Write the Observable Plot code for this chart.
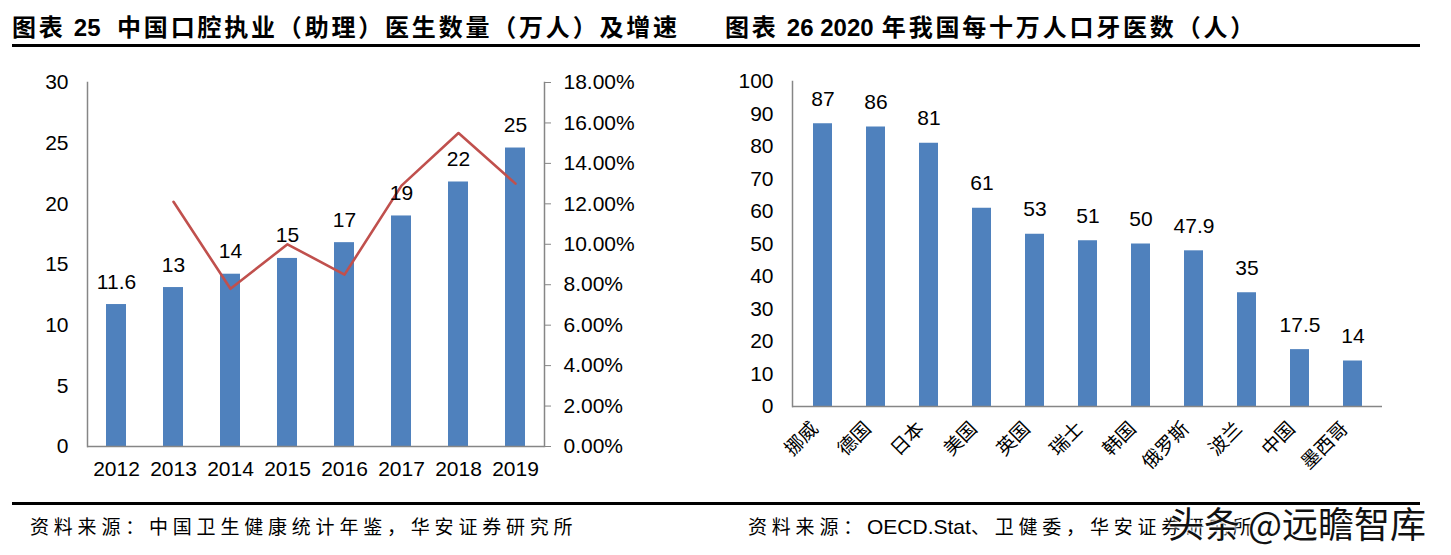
<!DOCTYPE html>
<html>
<head>
<meta charset="utf-8">
<script src="https://cdn.jsdelivr.net/npm/d3@7"></script>
<script src="https://cdn.jsdelivr.net/npm/@observablehq/plot@0.6"></script>
<style>
  body { margin: 0; background: #fff; }
  #page { position: relative; width: 1451px; height: 555px; overflow: hidden; background: #fff; }
  .title { position: absolute; top: 10px; font-family: "Noto Sans CJK SC", sans-serif; font-weight: bold; font-size: 24px; letter-spacing: 2.8px; color: #000; white-space: nowrap; line-height: 32px; }
  .title .num { font-family: "Liberation Sans", sans-serif; letter-spacing: 0; }
  .rule { position: absolute; left: 12px; width: 1408px; height: 3px; background: #000; }
  .source { position: absolute; top: 512px; font-family: "Noto Sans CJK SC", sans-serif; font-size: 19px; letter-spacing: 4.8px; color: #000; white-space: nowrap; line-height: 28px; }
  .source .latin { font-family: "Liberation Sans", sans-serif; font-size: 21px; letter-spacing: 0; }
  .chart { position: absolute; }
  #wm { position: absolute; left: 1168px; top: 500px; font-family: "Noto Sans CJK SC", sans-serif; font-size: 36px; color: #111; white-space: nowrap; text-shadow: 0 0 3px #fff, 0 0 3px #fff, 0 0 3px #fff; line-height: 44px; }
</style>
</head>
<body>
<div id="page">
  <div class="title" style="left:12px">图表 <span class="num">25</span>&nbsp; 中国口腔执业（助理）医生数量（万人）及增速</div>
  <div class="title" style="left:725px">图表 <span class="num">26 2020</span> 年我国每十万人口牙医数（人）</div>
  <div class="rule" style="top:44px"></div>
  <div id="left" class="chart" style="left:0px; top:60px"></div>
  <div id="right" class="chart" style="left:725px; top:60px"></div>
  <div class="rule" style="top:502px"></div>
  <div class="source" style="left:30px">资料来源：中国卫生健康统计年鉴，华安证券研究所</div>
  <div class="source" style="left:748px">资料来源：<span class="latin">OECD.Stat</span>、卫健委，华安证券研究所</div>
  <div id="wm">头条 @远瞻智库</div>
</div>
<script>
// ---- Data: chart 25 ----
const years = ["2012", "2013", "2014", "2015", "2016", "2017", "2018", "2019"];
const doctors = [11.7, 13.1, 14.2, 15.5, 16.8, 19.0, 21.8, 24.6];
const doctorLabels = ["11.6", "13", "14", "15", "17", "19", "22", "25"];
const growthPct = [null, 12.1, 7.8, 10.0, 8.5, 12.9, 15.5, 13.0];
const leftTicks = [0, 5, 10, 15, 20, 25, 30];
const pctTicks = [0, 2, 4, 6, 8, 10, 12, 14, 16, 18];

// ---- Data: chart 26 ----
const countries = ["挪威", "德国", "日本", "美国", "英国", "瑞士", "韩国", "俄罗斯", "波兰", "中国", "墨西哥"];
const dentists = [87, 86, 81, 61, 53, 51, 50, 47.9, 35, 17.5, 14];
const dentistLabels = ["87", "86", "81", "61", "53", "51", "50", "47.9", "35", "17.5", "14"];
const rightTicks = [0, 10, 20, 30, 40, 50, 60, 70, 80, 90, 100];

const BLUE = "#4F81BD";
const RED = "#C0504D";
const AXIS = "#868686";
const FS = 21;

const leftData = years.map((y, i) => ({year: y, value: doctors[i], label: doctorLabels[i], growth: growthPct[i]}));
const growthData = leftData.filter(d => d.growth != null);
const pctMax = 18, leftMax = 30;
const toLeft = p => p * leftMax / pctMax;

const left = Plot.plot({
  width: 660, height: 430,
  marginLeft: 87, marginRight: 116, marginTop: 22, marginBottom: 44,
  x: {domain: years, paddingInner: 0.65, paddingOuter: 0.325, label: null},
  y: {domain: [0, leftMax], label: null},
  style: {fontFamily: "'Liberation Sans', Arial, sans-serif", fontSize: FS + "px", color: "#000", background: "transparent", overflow: "visible"},
  marks: [
    Plot.barY(leftData, {x: "year", y: "value", fill: BLUE}),
    Plot.frame({anchor: "left", stroke: AXIS, strokeWidth: 1.5}),
    Plot.frame({anchor: "right", stroke: AXIS, strokeWidth: 1.5}),
    Plot.ruleY([0], {stroke: AXIS, strokeWidth: 1.5}),
    Plot.line(growthData, {x: "year", y: d => toLeft(d.growth), stroke: RED, strokeWidth: 2.6}),
    Plot.text(leftData, {x: "year", y: "value", text: "label", lineAnchor: "bottom", dy: -16, fill: "#000", fontSize: FS}),
    Plot.axisY(leftTicks, {anchor: "left", tickSize: 0, tickPadding: 19, label: null, fontSize: FS}),
    Plot.axisY(pctTicks.map(toLeft), {anchor: "right", tickSize: 6, tickPadding: 13, stroke: AXIS, fontSize: FS, tickFormat: d => (d * pctMax / leftMax).toFixed(2) + "%", label: null}),
    Plot.axisX({tickSize: 0, tickPadding: 15, label: null, fontSize: FS})
  ]
});
document.getElementById("left").append(left);

const rightData = countries.map((c, i) => ({country: c, value: dentists[i], label: dentistLabels[i]}));
const right = Plot.plot({
  width: 726, height: 440,
  marginLeft: 67, marginRight: 69, marginTop: 21, marginBottom: 94,
  x: {domain: countries, paddingInner: 0.645, paddingOuter: 0.3225, label: null},
  y: {domain: [0, 100], label: null},
  style: {fontFamily: "'Liberation Sans', Arial, sans-serif", fontSize: FS + "px", color: "#000", background: "transparent", overflow: "visible"},
  marks: [
    Plot.barY(rightData, {x: "country", y: "value", fill: BLUE}),
    Plot.frame({anchor: "left", stroke: AXIS, strokeWidth: 1.5}),
    Plot.ruleY([0], {stroke: AXIS, strokeWidth: 1.5}),
    Plot.text(rightData, {x: "country", y: "value", text: "label", lineAnchor: "bottom", dy: -18, fill: "#000", fontSize: FS}),
    Plot.axisY(rightTicks, {anchor: "left", tickSize: 0, tickPadding: 19, label: null, fontSize: FS}),
    Plot.axisX({tickSize: 0, tickPadding: 19, dx: -8, tickRotate: -45, label: null, fontFamily: "'Noto Sans CJK SC', sans-serif", fontSize: 19})
  ]
});
document.getElementById("right").append(right);
</script>
</body>
</html>
